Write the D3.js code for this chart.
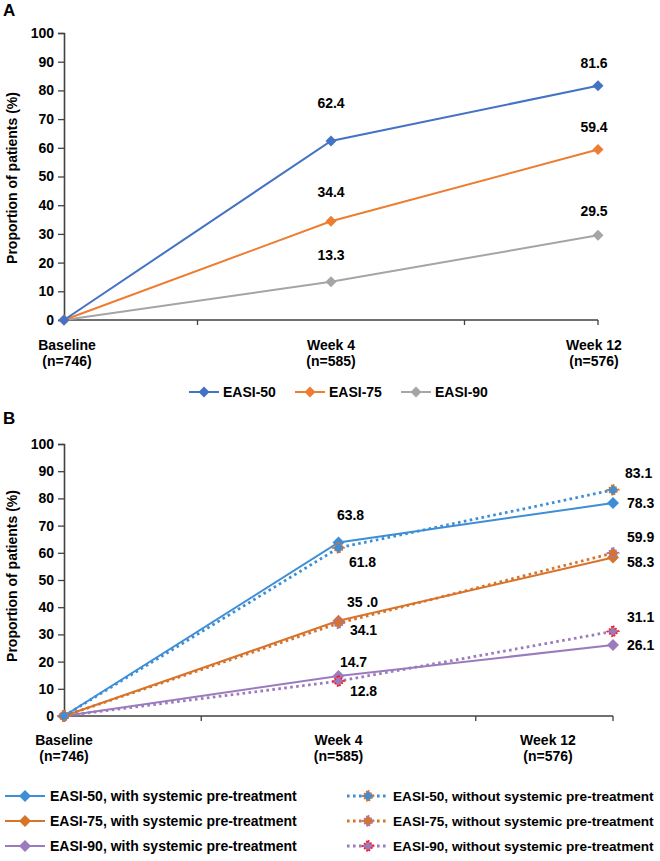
<!DOCTYPE html>
<html>
<head>
<meta charset="utf-8">
<script src="https://cdn.jsdelivr.net/npm/d3@7"></script>
<style>
  body { margin: 0; background: #fff; }
  svg text { font-family: "Liberation Sans", Arial, sans-serif; font-weight: bold; fill: #000; }
</style>
</head>
<body>
<svg id="chart" width="660" height="861"></svg>
<script>
// ---------- DATA ----------
const categories = ["Baseline", "Week 4", "Week 12"];
const categoryN = ["(n=746)", "(n=585)", "(n=576)"];
const yTicks = [0, 10, 20, 30, 40, 50, 60, 70, 80, 90, 100];

// Panel A
const seriesA = ["EASI-50", "EASI-75", "EASI-90"];
const easi50A = [0, 62.4, 81.6];
const easi75A = [0, 34.4, 59.4];
const easi90A = [0, 13.3, 29.5];

// Panel B
const seriesB = [
  "EASI-50, with systemic pre-treatment",
  "EASI-75, with systemic pre-treatment",
  "EASI-90, with systemic pre-treatment",
  "EASI-50, without systemic pre-treatment",
  "EASI-75, without systemic pre-treatment",
  "EASI-90, without systemic pre-treatment"
];
const easi50With = [0, 63.8, 78.3];
const easi75With = [0, 35.0, 58.3];
const easi90With = [0, 14.7, 26.1];
const easi50Without = [0, 61.8, 83.1];
const easi75Without = [0, 34.1, 59.9];
const easi90Without = [0, 12.8, 31.1];
const labelTextB = {"35": "35 .0"}; // label text as printed

// ---------- STYLE / LAYOUT ----------
const svg = d3.select("#chart");
const axisColor = "#404040";
const colorsA = ["#4472c4", "#ed7d31", "#a5a5a5"];
const colB = { blue: "#3d8ed6", orange: "#d8732a", purple: "#9b7bbd", red: "#ff1a1a" };

function diamond(r) { return `M0,${-r}L${r},0L0,${r}L${-r},0Z`; }

function drawAxes(g, x, y, xTickPositions, labelDx, labelY0) {
  const yAxis = d3.axisLeft(y).tickValues(yTicks).tickSize(6).tickPadding(4);
  const ga = g.append("g").attr("transform", `translate(${x.range()[0]},0)`).call(yAxis);
  ga.select(".domain").attr("stroke", axisColor).attr("stroke-width", 1.6);
  ga.selectAll(".tick line").attr("stroke", axisColor).attr("stroke-width", 1.3);
  ga.selectAll(".tick text").style("font-size", "14px").attr("fill", "#000");
  const y0 = y(0);
  g.append("line").attr("x1", x.range()[0]).attr("x2", x.range()[1])
    .attr("y1", y0).attr("y2", y0).attr("stroke", axisColor).attr("stroke-width", 1.6);
  g.selectAll(".xt").data(xTickPositions).enter().append("line")
    .attr("x1", d => d).attr("x2", d => d).attr("y1", y0).attr("y2", y0 + 5)
    .attr("stroke", axisColor).attr("stroke-width", 1.3);
  categories.forEach((c, i) => {
    const cx = x(c) + labelDx[i];
    g.append("text").attr("x", cx).attr("y", y0 + labelY0).attr("text-anchor", "middle")
      .style("font-size", "14px").text(c);
    g.append("text").attr("x", cx).attr("y", y0 + labelY0 + 16).attr("text-anchor", "middle")
      .style("font-size", "14px").text(categoryN[i]);
  });
}

function yTitle(g, cx, cy) {
  g.append("text").attr("transform", `translate(${cx},${cy}) rotate(-90)`)
    .attr("text-anchor", "middle").style("font-size", "14px").text("Proportion of patients (%)");
}

// ---------- PANEL A ----------
{
  const g = svg.append("g");
  const x = d3.scalePoint().domain(categories).range([64, 598]);
  const y = d3.scaleLinear().domain([0, 100]).range([320, 33]);
  const mids = [(x(categories[0]) + x(categories[1])) / 2, (x(categories[1]) + x(categories[2])) / 2, x(categories[2])];
  g.append("text").attr("x", 3).attr("y", 16).style("font-size", "17px").text("A");
  drawAxes(g, x, y, mids, [3, 0, -4], 30);
  yTitle(g, 17, 178);

  const data = [easi50A, easi75A, easi90A];
  const lblOff = [
    [[0, 0], [0, -33], [-4, -18]],
    [[0, 0], [0, -24], [-4, -18]],
    [[0, 0], [0, -22], [-4, -19]]
  ];
  const line = d3.line().x((d, i) => x(categories[i])).y(d => y(d));
  [2, 1, 0].forEach(s => {
    g.append("path").datum(data[s]).attr("d", line).attr("fill", "none")
      .attr("stroke", colorsA[s]).attr("stroke-width", 2);
  });
  [2, 1, 0].forEach(s => {
    data[s].forEach((v, i) => {
      g.append("path").attr("d", diamond(5.5))
        .attr("transform", `translate(${x(categories[i])},${y(v)})`).attr("fill", colorsA[s]);
      if (i > 0) {
        g.append("text").attr("x", x(categories[i]) + lblOff[s][i][0])
          .attr("y", y(v) + lblOff[s][i][1]).attr("text-anchor", "middle")
          .style("font-size", "14px").text(v.toFixed(1));
      }
    });
  });

  const legX = [189, 295, 401];
  seriesA.forEach((name, s) => {
    const lg = g.append("g").attr("transform", `translate(${legX[s]},392)`);
    lg.append("line").attr("x1", 0).attr("x2", 30).attr("stroke", colorsA[s]).attr("stroke-width", 2);
    lg.append("path").attr("d", diamond(5.5)).attr("transform", "translate(15,0)").attr("fill", colorsA[s]);
    lg.append("text").attr("x", 34).attr("y", 5).style("font-size", "14px").text(name);
  });
}

// ---------- PANEL B ----------
{
  const g = svg.append("g");
  const x = d3.scalePoint().domain(categories).range([64, 613]);
  const y = d3.scaleLinear().domain([0, 100]).range([716, 444]);
  const mids = [(x(categories[0]) + x(categories[1])) / 2, (x(categories[1]) + x(categories[2])) / 2, x(categories[2])];
  g.append("text").attr("x", 3).attr("y", 424).style("font-size", "17px").text("B");
  drawAxes(g, x, y, mids, [0, 0, -65], 29);
  yTitle(g, 17, 576);

  const specs = [
    { data: easi50With, color: colB.blue, dotted: false, fill: colB.blue, stroke: null },
    { data: easi75With, color: colB.orange, dotted: false, fill: colB.orange, stroke: null },
    { data: easi90With, color: colB.purple, dotted: false, fill: colB.purple, stroke: null },
    { data: easi50Without, color: colB.blue, dotted: true, fill: colB.blue, stroke: colB.orange },
    { data: easi75Without, color: colB.orange, dotted: true, fill: colB.orange, stroke: colB.purple },
    { data: easi90Without, color: colB.purple, dotted: true, fill: colB.purple, stroke: colB.red }
  ];
  const lblB = [
    [null, [12, -27, "middle"], [14, 0, "start"]],
    [null, [24, -19, "middle"], [14, 5, "start"]],
    [null, [15, -14, "middle"], [14, 0, "start"]],
    [null, [24, 14, "middle"], [12, -17, "start"]],
    [null, [25, 7, "middle"], [14, -16, "start"]],
    [null, [25, 10, "middle"], [14, -14, "start"]]
  ];
  const line = d3.line().x((d, i) => x(categories[i])).y(d => y(d));
  const order = [2, 5, 1, 4, 0, 3];
  order.forEach(s => {
    const sp = specs[s];
    g.append("path").datum(sp.data).attr("d", line).attr("fill", "none")
      .attr("stroke", sp.color).attr("stroke-width", sp.dotted ? 2.8 : 2)
      .attr("stroke-dasharray", sp.dotted ? "2.6,3.4" : null);
  });
  function marker(parent, sp, tx, ty) {
    const m = parent.append("path").attr("d", diamond(6))
      .attr("transform", `translate(${tx},${ty})`).attr("fill", sp.fill);
    if (sp.stroke) {
      m.attr("d", diamond(5.5)).attr("stroke", sp.stroke).attr("stroke-width", 2)
        .attr("stroke-dasharray", "1.6,1.6");
    }
  }
  order.forEach(s => {
    const sp = specs[s];
    sp.data.forEach((v, i) => marker(g, sp, x(categories[i]), y(v)));
  });
  specs.forEach((sp, s) => {
    sp.data.forEach((v, i) => {
      const o = lblB[s][i];
      if (!o) return;
      const key = v.toFixed(1) === "35.0" ? "35" : null;
      g.append("text").attr("x", x(categories[i]) + o[0]).attr("y", y(v) + o[1] + 5)
        .attr("text-anchor", o[2]).style("font-size", "14px")
        .text(key ? labelTextB[key] : v.toFixed(1));
    });
  });

  const rowsY = [796, 821, 846];
  seriesB.forEach((name, s) => {
    const sp = specs[s];
    const col = s < 3 ? 0 : 1;
    const row = s % 3;
    const lx = col === 0 ? 5 : 347;
    const lg = g.append("g").attr("transform", `translate(${lx},${rowsY[row]})`);
    lg.append("line").attr("x1", 0).attr("x2", 40)
      .attr("stroke", sp.color).attr("stroke-width", sp.dotted ? 2.8 : 2)
      .attr("stroke-dasharray", sp.dotted ? "2.6,3.4" : null);
    marker(lg, sp, col === 0 ? 20 : 21, 0);
    lg.append("text").attr("x", col === 0 ? 45 : 46).attr("y", 5)
      .style("font-size", col === 0 ? "14px" : "13.6px").text(name);
  });
}
</script>
</body>
</html>
